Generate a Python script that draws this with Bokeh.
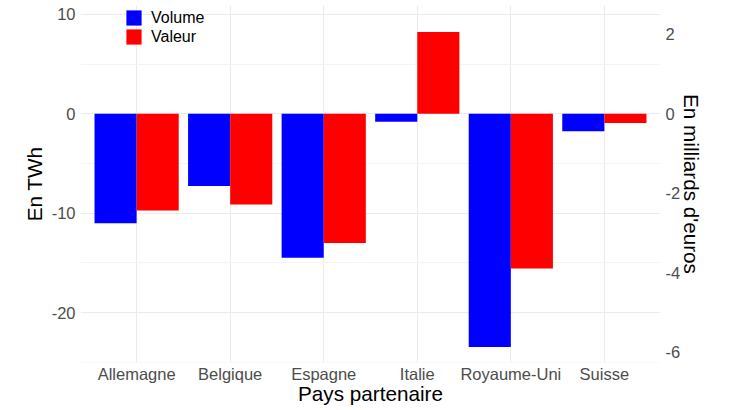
from bokeh.plotting import figure
from bokeh.models import (FactorRange, Range1d, LinearAxis, FixedTicker, Legend,
                          LegendItem, ColumnDataSource, PrintfTickFormatter)
from bokeh.transform import dodge
from bokeh.embed import file_html
from bokeh.resources import INLINE

# ---- data ----
countries = ["Allemagne", "Belgique", "Espagne", "Italie", "Royaume-Uni", "Suisse"]
volume_twh = [-11.0, -7.25, -14.47, -0.8, -23.46, -1.75]      # En TWh
valeur_mds = [-2.43, -2.28, -3.25, 2.06, -3.89, -0.23]        # En milliards d'euros
left_ticks = [-20, -10, 0, 10]
left_minor = [-25, -15, -5, 5]
right_ticks = [-6, -4, -2, 0, 2]
eur_per_twh = 0.25   # secondary axis scale (right = left / 4)

FONT = "Liberation Sans"

src = ColumnDataSource(dict(pays=countries, volume=volume_twh, valeur=valeur_mds))

y_lo, y_hi = -25.02, 10.9
x_range = FactorRange(factors=countries, range_padding=0.1, range_padding_units="absolute")
p = figure(width=730, height=410, x_range=x_range, y_range=Range1d(y_lo, y_hi),
           output_backend="svg", toolbar_location=None,
           min_border_left=80, min_border_right=70, min_border_top=5, min_border_bottom=48)
p.extra_y_ranges = {"eur": Range1d(y_lo * eur_per_twh, y_hi * eur_per_twh)}
p.outline_line_color = None
p.background_fill_color = "white"
p.border_fill_color = "white"

r_vol = p.vbar(x=dodge("pays", -0.225, range=p.x_range), top="volume", bottom=0, width=0.45,
               source=src, fill_color="#0000FF", line_color=None)
r_val = p.vbar(x=dodge("pays", 0.225, range=p.x_range), top="valeur", bottom=0, width=0.45,
               source=src, fill_color="#FF0000", line_color=None, y_range_name="eur")

left_ticker = FixedTicker(ticks=left_ticks, minor_ticks=left_minor)
left_axis = p.left[0]
left_axis.ticker = left_ticker
left_axis.formatter = PrintfTickFormatter(format="%d")
left_axis.axis_label = "En TWh"
p.ygrid[0].ticker = left_ticker

right_axis = LinearAxis(y_range_name="eur", ticker=FixedTicker(ticks=right_ticks),
                        formatter=PrintfTickFormatter(format="%d"),
                        axis_label="En milliards d'euros")
p.add_layout(right_axis, "right")

bottom_axis = p.below[0]
bottom_axis.axis_label = "Pays partenaire"

for ax in (left_axis, right_axis, bottom_axis):
    ax.axis_line_color = None
    ax.major_tick_line_color = None
    ax.minor_tick_line_color = None
    ax.major_tick_out = 0
    ax.major_tick_in = 0
    ax.minor_tick_out = 0
    ax.minor_tick_in = 0
    ax.major_label_text_font = FONT
    ax.major_label_text_font_size = "16.5px"
    ax.major_label_text_color = "#4D4D4D"
    ax.axis_label_text_font = FONT
    ax.axis_label_text_font_size = "20.7px"
    ax.axis_label_text_font_style = "normal"
    ax.axis_label_text_color = "black"
    ax.major_label_standoff = 5

left_axis.axis_label_standoff = 3
right_axis.axis_label_standoff = -3
bottom_axis.major_label_standoff = 2
bottom_axis.axis_label_standoff = -4

p.xgrid.grid_line_color = "#EBEBEB"
p.ygrid.grid_line_color = "#EBEBEB"
p.ygrid.minor_grid_line_color = "#F4F4F4"

legend = Legend(items=[LegendItem(label="Volume", renderers=[r_vol]),
                       LegendItem(label="Valeur", renderers=[r_val])],
                location=(44, 316), padding=0, margin=0, spacing=-2,
                glyph_width=19, glyph_height=19, label_height=15, label_standoff=8,
                label_text_font=FONT, label_text_font_size="16px", label_text_color="black",
                border_line_color=None, background_fill_alpha=0)
p.add_layout(legend)

open("out.html", "w").write(file_html(p, INLINE))
